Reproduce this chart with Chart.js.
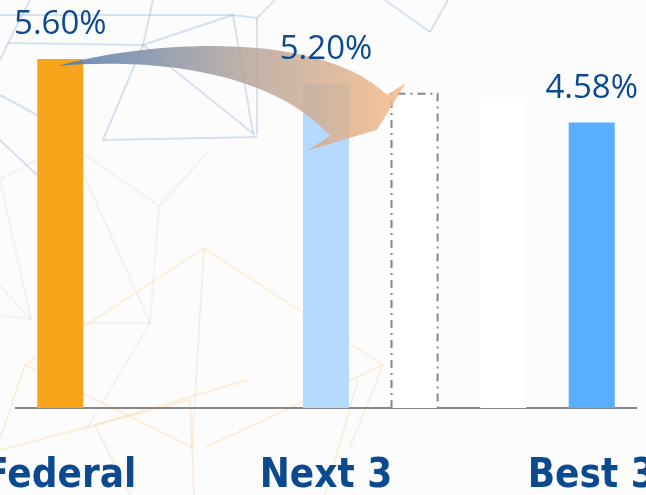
<!DOCTYPE html>
<html>
<head>
<meta charset="utf-8">
<script src="https://cdn.jsdelivr.net/npm/chart.js@4.4.1/dist/chart.umd.min.js"></script>
<style>
  html, body { margin: 0; padding: 0; background: #fcfcfc; }
  #wrap { width: 646px; height: 495px; position: relative; }
</style>
</head>
<body>
<div id="wrap"><canvas id="rateChart"></canvas></div>
<script>
// seven slots on the axis, only three of them named
const categories = ['Federal', '', '', 'Next 3', '', '', 'Best 3'];
const rates = [5.60, null, null, 5.20, 5.04, 4.91, 4.58];
const labelledSlots = [0, 3, 6];
const barColors = ['#f8a51b', null, null, '#b4dafe', '#ffffff', '#ffffff', '#5aaeff'];
const outlinedSlot = 4;   // dash-dot outline, no fill
const arrowFromSlot = 0;
const arrowToSlot = 4;

const textBlue = '#0b4a8f';

// faint polygon mesh behind the chart
const meshBlue = [
  [0, 15, 233, 15], [8, 43, 143, 45], [143, 45, 233, 15], [153, 0, 143, 45],
  [143, 45, 103, 140], [103, 140, 257, 137], [233, 15, 257, 18], [257, 18, 257, 135],
  [233, 15, 253, 133], [143, 45, 255, 135], [8, 43, 30, 0], [8, 43, 0, 60],
  [257, 18, 275, 0], [385, 0, 430, 32], [430, 32, 448, 0], [0, 95, 37, 115], [0, 140, 37, 175]
];
const meshGray = [
  [0, 179, 41, 158], [84, 154, 159, 206], [159, 206, 210, 150], [159, 206, 150, 323],
  [84, 175, 150, 323], [84, 323, 150, 323], [150, 323, 84, 434], [0, 179, 31, 319],
  [0, 286, 31, 319], [0, 315, 31, 319]
];
const meshOrange = [
  [25, 365, 204, 248], [204, 248, 383, 365], [204, 248, 192, 447], [383, 365, 206, 447],
  [25, 365, 192, 447], [383, 365, 350, 447], [25, 365, 0, 438], [95, 425, 0, 450],
  [95, 425, 190, 400], [95, 425, 247, 380], [190, 400, 194, 495], [358, 380, 325, 495],
  [95, 425, 130, 495]
];

const backdrop = {
  id: 'backdrop',
  beforeDraw(chart) {
    const ctx = chart.ctx;
    ctx.save();
    ctx.fillStyle = '#fcfcfc';
    ctx.fillRect(0, 0, chart.width, chart.height);
    ctx.lineWidth = 2;
    const strokeAll = (segs, color) => {
      ctx.strokeStyle = color;
      segs.forEach(s => {
        ctx.beginPath();
        ctx.moveTo(s[0], s[1]);
        ctx.lineTo(s[2], s[3]);
        ctx.stroke();
      });
    };
    strokeAll(meshGray, 'rgba(0,0,0,0.04)');
    strokeAll(meshOrange, 'rgba(250,180,90,0.18)');
    strokeAll(meshBlue, 'rgba(110,150,200,0.26)');
    ctx.restore();
  }
};

const overlays = {
  id: 'overlays',
  afterDatasetsDraw(chart) {
    const ctx = chart.ctx;
    const bars = chart.getDatasetMeta(0).data;

    // dash-dot outline around the empty bar
    const ob = bars[outlinedSlot];
    const half = ob.width / 2;
    ctx.save();
    ctx.strokeStyle = '#878787';
    ctx.lineWidth = 2;
    ctx.setLineDash([8, 5, 2, 5]);
    ctx.beginPath();
    ctx.moveTo(ob.x - half, ob.base);
    ctx.lineTo(ob.x - half, ob.y);
    ctx.lineTo(ob.x + half, ob.y);
    ctx.lineTo(ob.x + half, ob.base);
    ctx.stroke();
    ctx.restore();

    // curved arrow from the first bar to the outlined one
    const a = bars[arrowFromSlot];
    const b = bars[arrowToSlot];
    const sx = a.x - 3, sy = a.y + 7;
    const ex = b.x, ey = b.y;
    const grad = ctx.createLinearGradient(sx, 0, ex - 8, 0);
    grad.addColorStop(0, '#4a79b2');
    grad.addColorStop(0.5, '#b0a29c');
    grad.addColorStop(1, '#f6bb88');
    ctx.save();
    ctx.globalAlpha = 0.85;
    ctx.fillStyle = grad;
    ctx.beginPath();
    ctx.moveTo(sx, sy);
    ctx.bezierCurveTo(sx + 93, sy - 26, ex - 95, ey - 64, ex - 27.5, ey + 1);
    ctx.lineTo(ex - 8.5, ey - 11);
    ctx.lineTo(ex - 37.5, ey + 36);
    ctx.lineTo(ex - 107.5, ey + 57);
    ctx.lineTo(ex - 84.5, ey + 42);
    ctx.bezierCurveTo(ex - 144, ey - 24, sx + 93, sy - 8, sx, sy);
    ctx.closePath();
    ctx.fill();
    ctx.restore();

    // percentage labels above the named bars
    ctx.save();
    ctx.fillStyle = textBlue;
    ctx.font = '400 33px "Open Sans", sans-serif';
    ctx.textAlign = 'center';
    ctx.textBaseline = 'alphabetic';
    labelledSlots.forEach(i => {
      const el = bars[i];
      ctx.fillText(rates[i].toFixed(2) + '%', el.x, el.y - 25);
    });
    ctx.restore();
  }
};

new Chart(document.getElementById('rateChart'), {
  type: 'bar',
  data: {
    labels: categories,
    datasets: [{
      data: rates,
      backgroundColor: barColors.map(c => c || 'rgba(0,0,0,0)'),
      borderWidth: 0,
      barPercentage: 1,
      categoryPercentage: 0.52
    }]
  },
  options: {
    responsive: true,
    maintainAspectRatio: false,
    animation: false,
    layout: { padding: { left: 16, right: 10, top: 34, bottom: 0 } },
    plugins: { legend: { display: false }, tooltip: { enabled: false } },
    scales: {
      x: {
        grid: { display: false, drawTicks: false },
        border: { display: true, color: '#888888', width: 2 },
        ticks: {
          autoSkip: false,
          maxRotation: 0,
          padding: 49,
          color: textBlue,
          font: { family: '"DejaVu Sans Condensed", sans-serif', size: 40, weight: 'bold', lineHeight: 1 }
        },
        afterFit(scale) {
          scale.paddingLeft = 0;
          scale.paddingRight = 0;
          scale.height = 87;
        }
      },
      y: { display: false, min: 0, max: 6 }
    }
  },
  plugins: [backdrop, overlays]
});
</script>
</body>
</html>
